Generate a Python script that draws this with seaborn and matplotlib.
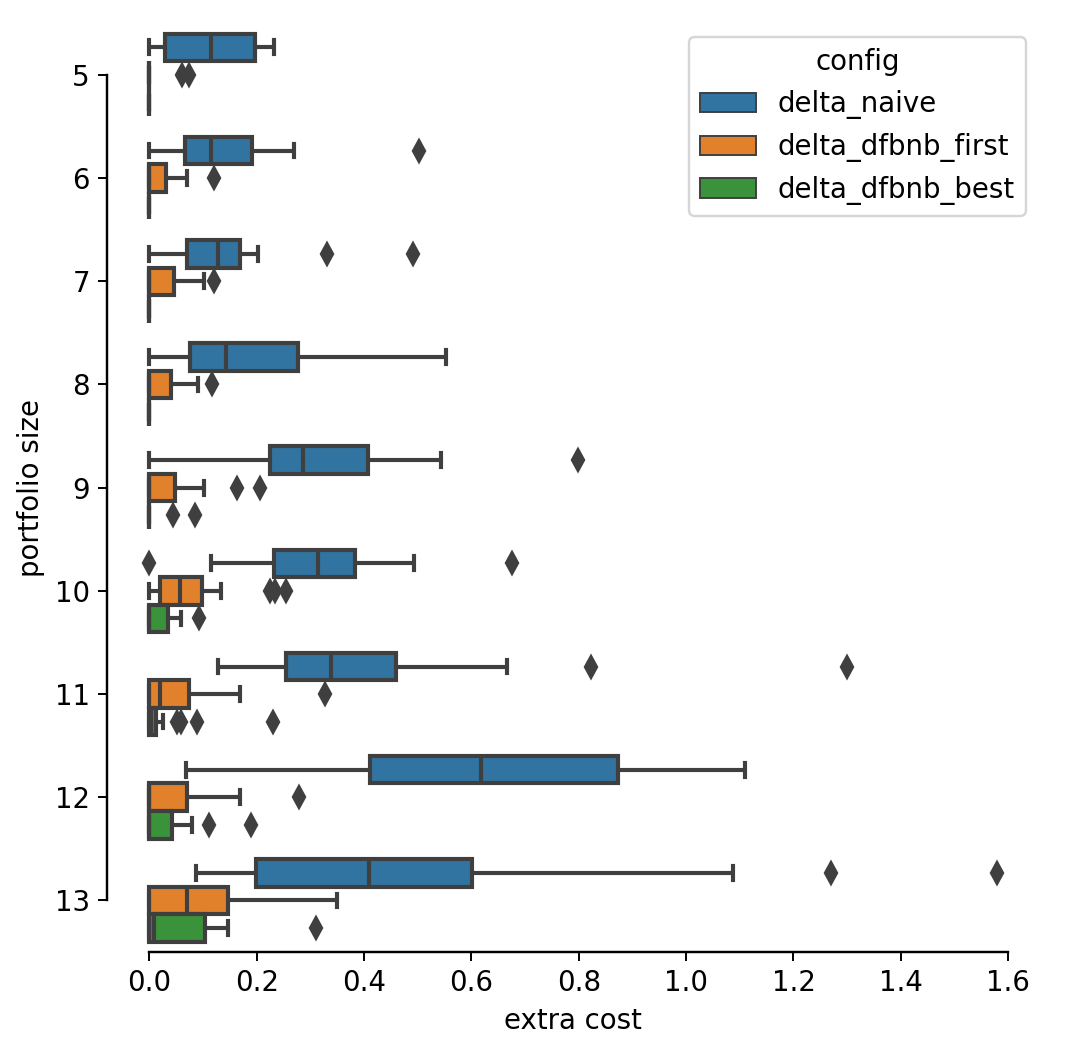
import numpy as np
import pandas as pd
import matplotlib
matplotlib.use("Agg")
import matplotlib.pyplot as plt
import seaborn as sns

sizes = [5, 6, 7, 8, 9, 10, 11, 12, 13]
configs = ["delta_naive", "delta_dfbnb_first", "delta_dfbnb_best"]

# box summaries: (whisker low, q1, median, q3, whisker high)
naive_box = [
    (0.0, 0.029, 0.115, 0.196, 0.232),
    (0.0, 0.066, 0.115, 0.192, 0.269),
    (0.0, 0.070, 0.127, 0.169, 0.202),
    (0.0, 0.075, 0.143, 0.277, 0.553),
    (0.0, 0.224, 0.287, 0.408, 0.544),
    (0.115, 0.232, 0.315, 0.383, 0.493),
    (0.128, 0.254, 0.338, 0.459, 0.666),
    (0.068, 0.411, 0.618, 0.873, 1.110),
    (0.086, 0.198, 0.409, 0.601, 1.088),
]
naive_out = [[], [0.503], [0.331, 0.491], [], [0.799], [0.0, 0.675],
             [0.822, 1.299], [], [1.270, 1.580]]

first_box = [
    (0.0, 0.0, 0.0, 0.0, 0.0),
    (0.0, 0.0, 0.0, 0.031, 0.071),
    (0.0, 0.0, 0.0, 0.045, 0.101),
    (0.0, 0.0, 0.0, 0.040, 0.090),
    (0.0, 0.0, 0.0, 0.047, 0.102),
    (0.0, 0.020, 0.057, 0.098, 0.133),
    (0.0, 0.0, 0.019, 0.073, 0.169),
    (0.0, 0.0, 0.0, 0.070, 0.169),
    (0.0, 0.0, 0.070, 0.147, 0.349),
]
first_out = [[0.061, 0.073], [0.121], [0.121], [0.116], [0.163, 0.206],
             [0.224, 0.235, 0.254], [0.328], [0.279], []]

best_box = [
    (0.0, 0.0, 0.0, 0.0, 0.0),
    (0.0, 0.0, 0.0, 0.0, 0.0),
    (0.0, 0.0, 0.0, 0.0, 0.0),
    (0.0, 0.0, 0.0, 0.0, 0.0),
    (0.0, 0.0, 0.0, 0.0, 0.0),
    (0.0, 0.0, 0.0, 0.035, 0.059),
    (0.0, 0.0, 0.003, 0.012, 0.026),
    (0.0, 0.0, 0.0, 0.043, 0.079),
    (0.0, 0.0, 0.008, 0.103, 0.147),
]
best_out = [[], [], [], [], [0.044, 0.085], [0.093],
            [0.051, 0.059, 0.089, 0.230], [0.112, 0.189], [0.310]]


def expand(box, outliers):
    """Build a sample whose quartiles / whiskers / fliers equal the summary."""
    lo, q1, med, q3, hi = box
    low_out = [v for v in outliers if v < q1]
    high_out = [v for v in outliers if v > q3]
    k = max(len(low_out), len(high_out)) + 1
    vals = []
    vals += low_out + [lo] + [q1] * (k - len(low_out) - 1)
    vals += [q1] + [med] * (k - 1)
    vals += [med] + [q3] * (k - 1)
    vals += [q3] + [q3] * (k - 1 - len(high_out) - 1) + [hi] + high_out
    return vals


rows = []
for cfg, boxes, outs in zip(configs, [naive_box, first_box, best_box],
                            [naive_out, first_out, best_out]):
    for s, b, o in zip(sizes, boxes, outs):
        for v in expand(b, o):
            rows.append({"portfolio size": str(s), "config": cfg, "extra cost": v})
df = pd.DataFrame(rows)

plt.rcParams["font.size"] = 11.4

fig = plt.figure(figsize=(1076 / 175, 1059 / 175), dpi=175)
ax = fig.add_axes([0.0994, 0.101, 0.867, 0.877])
sns.boxplot(data=df, x="extra cost", y="portfolio size", hue="config",
            order=[str(s) for s in sizes], hue_order=configs, orient="h",
            linecolor="#3f3f3f", linewidth=1.7, fliersize=6.3,
            flierprops={"marker": "d", "markerfacecolor": "#3f3f3f",
                        "markeredgecolor": "#3f3f3f"},
            ax=ax)
ax.set_xticks([0.0, 0.2, 0.4, 0.6, 0.8, 1.0, 1.2, 1.4, 1.6])
for sp in ax.spines.values():
    sp.set_linewidth(1.0)
sns.despine(trim=True)
leg = ax.legend(title="config", loc="upper right")
for h in leg.legend_handles:
    h.set_linewidth(0.8)
    h.set_edgecolor("#3f3f3f")
fig.savefig("out.png", dpi=175)
